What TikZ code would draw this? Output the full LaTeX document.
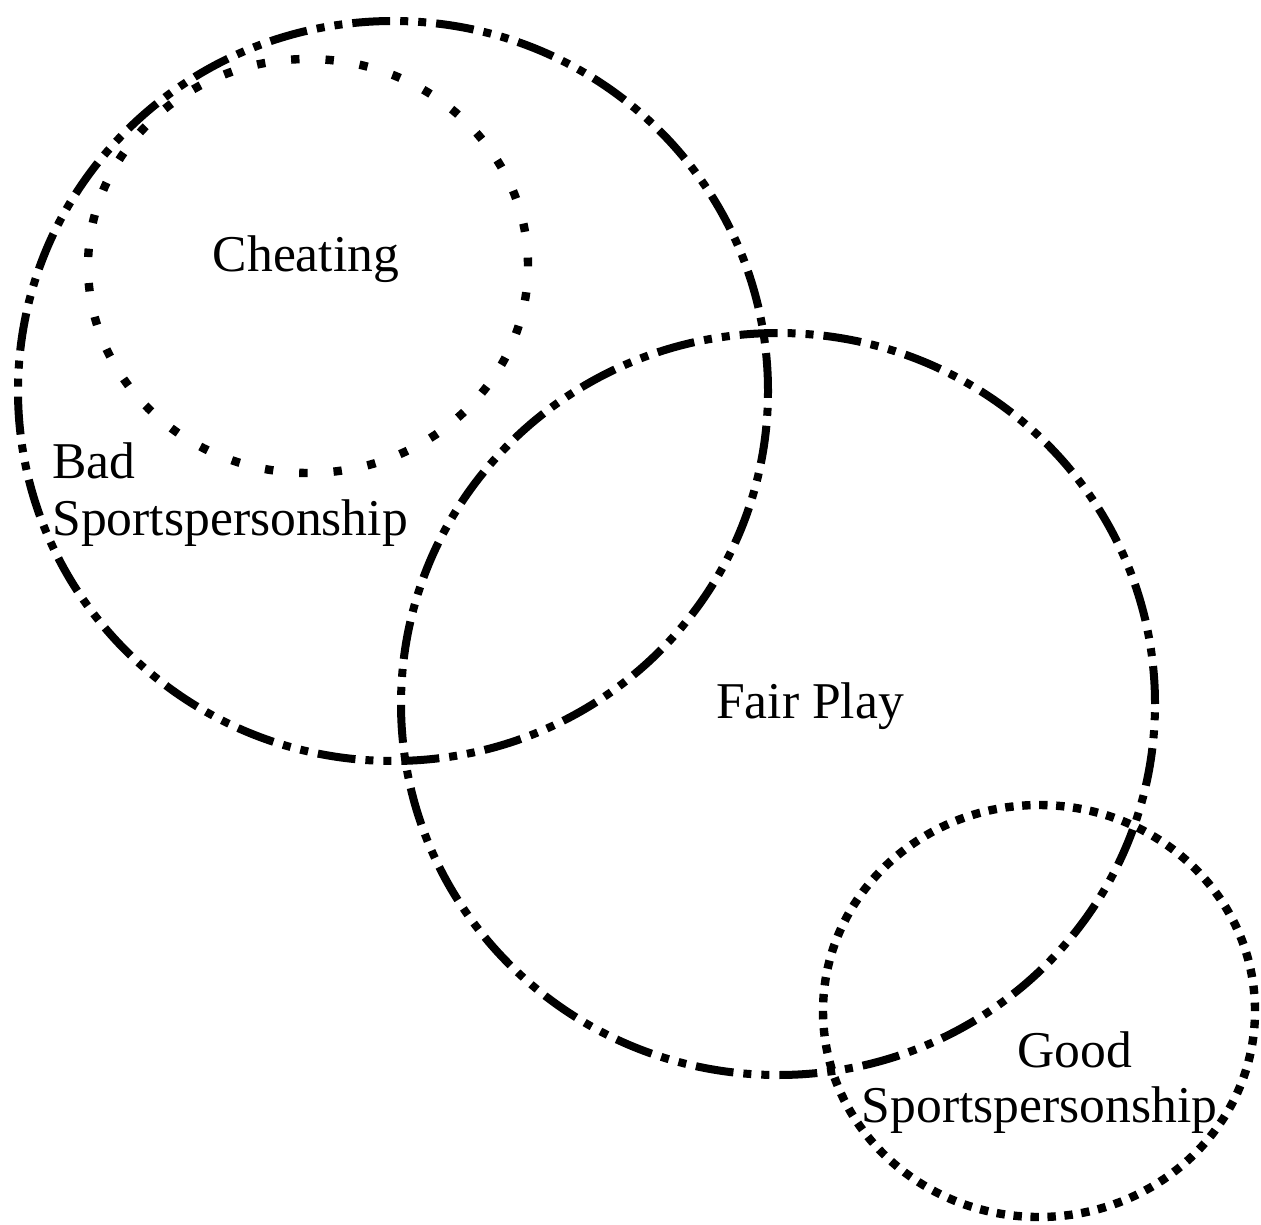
\documentclass[tikz,border=0pt]{standalone}
\usepackage{fontspec}
\setmainfont{Liberation Serif}
\begin{document}
\begin{tikzpicture}[x=0.5pt,y=-0.5pt,
  dashdotdot/.style={line width=4pt, line cap=butt,
    dash pattern=on 19pt off 5pt on 4pt off 5pt on 4pt off 5pt},
  sparsedots/.style={line width=4.2pt, line cap=butt,
    dash pattern=on 4.2pt off 13pt},
  densedots/.style={line width=4.2pt, line cap=butt,
    dash pattern=on 4.2pt off 4.3pt},
  lbl/.style={inner sep=0pt, font=\fontsize{25.8pt}{29pt}\selectfont}]
\useasboundingbox (0,0) rectangle (1261,1224);
% Bad sportspersonship
\draw[dashdotdot] (393,391) ellipse [x radius=187.5pt, y radius=185pt];
% Cheating
\draw[sparsedots] (308,266) ellipse [x radius=110pt, y radius=103.5pt];
% Fair play
\draw[dashdotdot] (778,704) ellipse [x radius=188.5pt, y radius=185.5pt];
% Good sportspersonship
\draw[densedots] (1039,1011) ellipse [x radius=108pt, y radius=103pt];
\node[lbl, anchor=base] (cheat) at (306,272) {Cheating};
\node[lbl, anchor=base west] (bad1) at (52,478) {Bad};
\node[lbl, anchor=base west] (bad2) at (52,535) {Sportspersonship};
\node[lbl, anchor=base] (fair) at (810,718) {Fair Play};
\node[lbl, anchor=base] (good1) at (1075,1067) {Good};
\node[lbl, anchor=base] (good2) at (1039.5,1122) {Sportspersonship};
\end{tikzpicture}
\end{document}
